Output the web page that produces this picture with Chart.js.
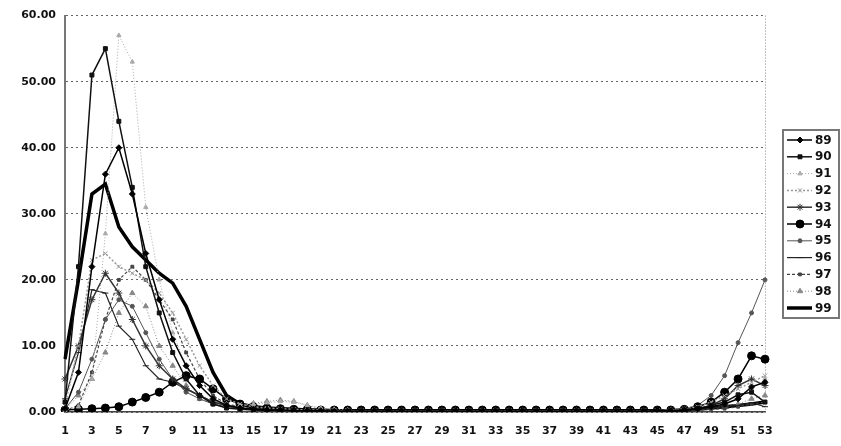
<!DOCTYPE html>
<html>
<head>
<meta charset="utf-8">
<script src="https://cdn.jsdelivr.net/npm/chart.js@4/dist/chart.umd.min.js"></script>
<style>
  html, body { margin: 0; padding: 0; background: #fff; }
  #wrap { width: 841px; height: 446px; }
</style>
</head>
<body>
<div id="wrap"><canvas id="c" width="841" height="446"></canvas></div>
<script>
// Weekly rates by season, weeks 1-53
const weeks = ['1','2','3','4','5','6','7','8','9','10','11','12','13','14','15','16','17','18','19','20',
  '21','22','23','24','25','26','27','28','29','30','31','32','33','34','35','36','37','38','39','40',
  '41','42','43','44','45','46','47','48','49','50','51','52','53'];

const yTicks = [0, 10, 20, 30, 40, 50, 60];

const s89 = [0.5, 6, 22, 36, 40, 33, 24, 17, 11, 7,
  4, 2, 1, 0.6, 0.4, 0.3, 0.3, 0.2, 0.2, 0.2,
  0.1, 0.1, 0.1, 0.1, 0.1, 0.1, 0.1, 0.1, 0.1, 0.1,
  0.1, 0.1, 0.1, 0.1, 0.1, 0.1, 0.1, 0.1, 0.1, 0.1,
  0.1, 0.1, 0.1, 0.1, 0.2, 0.2, 0.3, 0.5, 0.8, 1.2,
  2, 3.8, 4.5];
const s90 = [1.5, 22, 51, 55, 44, 34, 22, 15, 9, 5,
  2.5, 1.2, 0.6, 0.4, 0.3, 0.2, 0.2, 0.2, 0.1, 0.1,
  0.1, 0.1, 0.1, 0.1, 0.1, 0.1, 0.1, 0.1, 0.1, 0.1,
  0.1, 0.1, 0.1, 0.1, 0.1, 0.1, 0.1, 0.1, 0.1, 0.1,
  0.1, 0.1, 0.1, 0.1, 0.1, 0.2, 0.3, 0.5, 1, 1.5,
  2.6, 3, 1.5];
const s91 = [0.3, 0.8, 5, 27, 57, 53, 31, 20, 12, 7,
  4, 2, 1.2, 1, 1.2, 1.4, 1.6, 1.5, 1, 0.6,
  0.4, 0.3, 0.2, 0.2, 0.2, 0.2, 0.2, 0.2, 0.2, 0.2,
  0.2, 0.2, 0.2, 0.2, 0.2, 0.2, 0.2, 0.2, 0.2, 0.2,
  0.2, 0.2, 0.2, 0.2, 0.2, 0.3, 0.4, 0.6, 1, 1.5,
  2.5, 3.5, 5];
const s92 = [1, 10, 23, 24, 22, 21, 20, 18, 15, 11,
  7, 4, 2, 1.2, 0.8, 0.6, 0.5, 0.4, 0.3, 0.3,
  0.2, 0.2, 0.2, 0.2, 0.2, 0.2, 0.2, 0.2, 0.2, 0.2,
  0.2, 0.2, 0.2, 0.2, 0.2, 0.2, 0.2, 0.2, 0.2, 0.2,
  0.2, 0.2, 0.2, 0.2, 0.2, 0.3, 0.5, 0.8, 1.5, 2.5,
  3.5, 4.5, 5.5];
const s93 = [5, 10, 17, 21, 18, 14, 10, 7, 5, 3.5,
  2.5, 1.5, 1, 0.6, 0.4, 0.3, 0.3, 0.2, 0.2, 0.2,
  0.2, 0.2, 0.2, 0.2, 0.2, 0.2, 0.2, 0.2, 0.2, 0.2,
  0.2, 0.2, 0.2, 0.2, 0.2, 0.2, 0.2, 0.2, 0.2, 0.2,
  0.2, 0.2, 0.2, 0.2, 0.2, 0.3, 0.3, 0.5, 1, 2,
  4, 5, 4];
const s94 = [0.3, 0.4, 0.5, 0.6, 0.8, 1.5, 2.2, 3, 4.5, 5.5,
  5, 3.5, 2, 1.2, 0.8, 0.6, 0.5, 0.4, 0.4, 0.3,
  0.3, 0.3, 0.3, 0.3, 0.3, 0.3, 0.3, 0.3, 0.3, 0.3,
  0.3, 0.3, 0.3, 0.3, 0.3, 0.3, 0.3, 0.3, 0.3, 0.3,
  0.3, 0.3, 0.3, 0.3, 0.3, 0.3, 0.4, 0.8, 1.5, 3,
  5, 8.5, 8];
const s95 = [0.5, 3, 8, 14, 17, 16, 12, 8, 5, 3,
  2, 1.2, 0.8, 0.5, 0.4, 0.3, 0.3, 0.2, 0.2, 0.2,
  0.2, 0.2, 0.2, 0.2, 0.2, 0.2, 0.2, 0.2, 0.2, 0.2,
  0.2, 0.2, 0.2, 0.2, 0.2, 0.2, 0.2, 0.2, 0.2, 0.2,
  0.2, 0.2, 0.2, 0.2, 0.3, 0.4, 0.5, 1, 2.5, 5.5,
  10.5, 15, 20];
const s96 = [2, 9, 18.5, 18, 13, 11, 7, 5, 4.5, 3.5,
  2.5, 1.5, 1, 0.6, 0.4, 0.3, 0.3, 0.2, 0.2, 0.2,
  0.2, 0.2, 0.2, 0.2, 0.2, 0.2, 0.2, 0.2, 0.2, 0.2,
  0.2, 0.2, 0.2, 0.2, 0.2, 0.2, 0.2, 0.2, 0.2, 0.2,
  0.2, 0.2, 0.2, 0.2, 0.2, 0.2, 0.3, 0.4, 0.6, 0.8,
  1, 1.4, 0.8];
const s97 = [0.2, 1, 6, 14, 20, 22, 20, 17, 14, 9,
  5, 2.5, 1.2, 0.8, 0.6, 0.5, 0.4, 0.3, 0.3, 0.2,
  0.2, 0.2, 0.2, 0.2, 0.2, 0.2, 0.2, 0.2, 0.2, 0.2,
  0.2, 0.2, 0.2, 0.2, 0.2, 0.2, 0.2, 0.2, 0.2, 0.2,
  0.2, 0.2, 0.2, 0.2, 0.2, 0.2, 0.2, 0.3, 0.4, 0.5,
  0.8, 1.2, 1.5];
const s98 = [0.3, 2.5, 5, 9, 15, 18, 16, 10, 7, 4,
  2, 1.2, 0.8, 1, 1.3, 1.6, 1.8, 1.6, 1, 0.5,
  0.3, 0.2, 0.2, 0.2, 0.2, 0.2, 0.2, 0.2, 0.2, 0.2,
  0.2, 0.2, 0.2, 0.2, 0.2, 0.2, 0.2, 0.2, 0.2, 0.2,
  0.2, 0.2, 0.2, 0.2, 0.2, 0.2, 0.3, 0.4, 0.6, 0.9,
  1.2, 2, 2.5];
const s99 = [8, 20, 33, 34.5, 28, 25, 23, 21, 19.5, 16,
  11, 6, 2.5, 1.2, 0.8, 0.6, 0.5, 0.4, 0.3, 0.3,
  0.2, 0.2, 0.2, 0.2, 0.2, 0.2, 0.2, 0.2, 0.2, 0.2,
  0.2, 0.2, 0.2, 0.2, 0.2, 0.2, 0.2, 0.2, 0.2, 0.2,
  0.2, 0.2, 0.2, 0.2, 0.2, 0.2, 0.3, 0.4, 0.6, 0.8,
  1, 1.2, 1.5];

// Line and marker style per season, grayscale
const series = [
  { label: '89', data: s89, color: '#000', width: 1.5, dash: [],     point: 'rectRot',  r: 3 },
  { label: '90', data: s90, color: '#111', width: 1.5, dash: [],     point: 'rect',     r: 2.8 },
  { label: '91', data: s91, color: '#aaa', width: 1,   dash: [1, 2], point: 'triangle', r: 2.5 },
  { label: '92', data: s92, color: '#999', width: 1.5, dash: [2, 2], point: 'crossRot', r: 3 },
  { label: '93', data: s93, color: '#333', width: 1.5, dash: [],     point: 'star',     r: 3.5 },
  { label: '94', data: s94, color: '#000', width: 1.5, dash: [],     point: 'circle',   r: 4 },
  { label: '95', data: s95, color: '#555', width: 1,   dash: [],     point: 'circle',   r: 2 },
  { label: '96', data: s96, color: '#222', width: 1.2, dash: [],     point: 'line',     r: 3 },
  { label: '97', data: s97, color: '#444', width: 1.2, dash: [3, 2], point: 'rect',     r: 2 },
  { label: '98', data: s98, color: '#888', width: 1,   dash: [1, 2], point: 'triangle', r: 3 },
  { label: '99', data: s99, color: '#000', width: 3.5, dash: [],     point: 'circle',   r: 0 }
];

const FONT = { family: '"DejaVu Sans", sans-serif', size: 11, weight: 'bold' };

// Dotted right border of the plot area
const frame = {
  id: 'frame',
  beforeDatasetsDraw(chart) {
    const { ctx, chartArea: a } = chart;
    ctx.save();
    ctx.strokeStyle = '#888';
    ctx.lineWidth = 1;
    ctx.setLineDash([1, 2]);
    ctx.beginPath();
    ctx.moveTo(a.right + 0.5, a.top);
    ctx.lineTo(a.right + 0.5, a.bottom);
    ctx.stroke();
    ctx.restore();
  }
};

// Boxed legend on the right: line sample, marker, label
const boxLegend = {
  id: 'boxLegend',
  afterDraw(chart) {
    const { ctx } = chart;
    const x0 = 783, y0 = 130, w = 56, h = 188;
    ctx.save();
    ctx.strokeStyle = '#777';
    ctx.lineWidth = 2;
    ctx.strokeRect(x0, y0, w, h);
    const step = (h - 20) / (chart.data.datasets.length - 1);
    chart.data.datasets.forEach((ds, i) => {
      const y = y0 + 10 + i * step;
      ctx.save();
      ctx.strokeStyle = ds.borderColor;
      ctx.lineWidth = ds.borderWidth;
      ctx.setLineDash(ds.borderDash || []);
      ctx.beginPath();
      ctx.moveTo(787, y);
      ctx.lineTo(812, y);
      ctx.stroke();
      ctx.restore();
      if (ds.pointRadius > 0) {
        ctx.save();
        ctx.fillStyle = ds.pointBackgroundColor;
        ctx.strokeStyle = ds.pointBorderColor;
        ctx.lineWidth = 1;
        Chart.helpers.drawPoint(ctx, { pointStyle: ds.pointStyle, radius: ds.pointRadius, rotation: 0, borderWidth: 1 }, 800, y);
        ctx.restore();
      }
      ctx.fillStyle = '#111';
      ctx.font = 'bold 12px "DejaVu Sans", sans-serif';
      ctx.textBaseline = 'middle';
      ctx.textAlign = 'left';
      ctx.fillText(ds.label, 815, y + 0.5);
    });
    ctx.restore();
  }
};

new Chart(document.getElementById('c'), {
  type: 'line',
  data: {
    labels: weeks,
    datasets: series.map(s => ({
      label: s.label,
      data: s.data,
      borderColor: s.color,
      borderWidth: s.width,
      borderDash: s.dash,
      pointStyle: s.point,
      pointRadius: s.r,
      pointBackgroundColor: s.color,
      pointBorderColor: s.color,
      pointBorderWidth: 1,
      tension: 0,
      fill: false
    }))
  },
  options: {
    responsive: false,
    animation: false,
    layout: { padding: { top: 15, right: 76, bottom: 0, left: 0 } },
    plugins: { legend: { display: false }, tooltip: { enabled: false } },
    scales: {
      x: {
        grid: { display: false, drawTicks: false },
        border: { display: true, color: '#444', width: 1.5 },
        ticks: {
          autoSkip: false, maxRotation: 0, minRotation: 0, padding: 13,
          color: '#111', font: FONT,
          callback: (v, i) => (i % 2 === 0 ? weeks[i] : '')
        },
        afterFit: s => { s.height = 34; }
      },
      y: {
        min: 0, max: 60,
        afterBuildTicks: s => { s.ticks = yTicks.map(v => ({ value: v })); },
        // dotted horizontal gridlines (border.dash styles the grid lines in v4)
        grid: { color: '#666', lineWidth: 1, drawTicks: false },
        border: { display: true, color: '#777', width: 2, dash: [2, 3] },
        ticks: {
          padding: 9, color: '#111', font: FONT,
          callback: v => Number(v).toFixed(2)
        },
        afterFit: s => { s.width = 65; }
      }
    }
  },
  plugins: [frame, boxLegend]
});
</script>
</body>
</html>
